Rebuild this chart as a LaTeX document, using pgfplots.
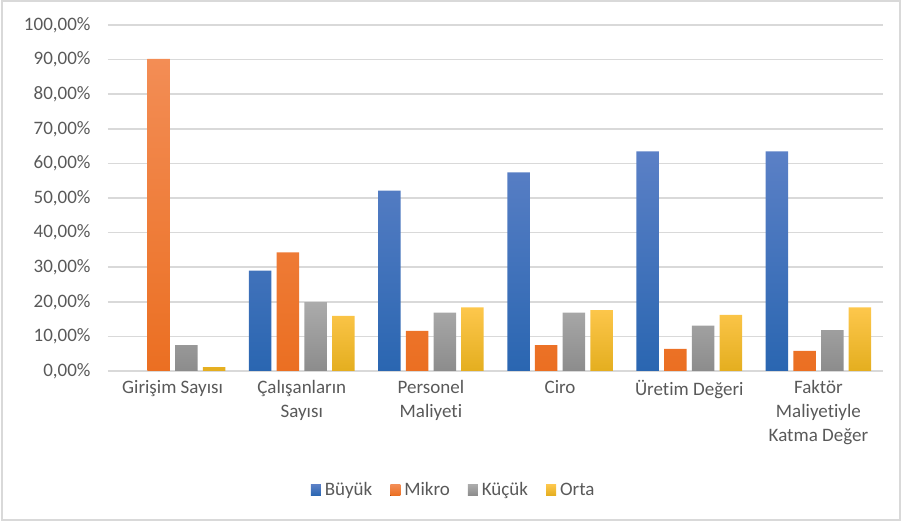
\documentclass[border=0pt]{standalone}
\usepackage{fontspec}
\setmainfont{Carlito}[Ligatures=NoCommon]
\usepackage{pgfplots}
\pgfplotsset{compat=1.18}

\definecolor{bluT}{HTML}{5B80C6}
\definecolor{bluB}{HTML}{2A66B1}
\definecolor{orT}{HTML}{F38D55}
\definecolor{orB}{HTML}{EB6F22}
\definecolor{grT}{HTML}{ABABAB}
\definecolor{grB}{HTML}{8C8C8C}
\definecolor{yeT}{HTML}{FDC74C}
\definecolor{yeB}{HTML}{E4AE1F}
\definecolor{txt}{HTML}{595959}
\definecolor{gridc}{HTML}{D9D9D9}

\begin{document}
\begin{tikzpicture}
\useasboundingbox (-108pt,-155pt) rectangle (796pt,371pt);
\begin{axis}[
  at={(0pt,0pt)}, anchor=south west,
  scale only axis,
  width=775pt, height=346pt,
  ybar=5.2pt, bar width=22.5pt,
  xmin=-0.5, xmax=5.5,
  ymin=0, ymax=100,
  axis line style={draw=none},
  ytick={0,10,...,100},
  yticklabels={{0,00\%},{10,00\%},{20,00\%},{30,00\%},{40,00\%},{50,00\%},{60,00\%},{70,00\%},{80,00\%},{90,00\%},{100,00\%}},
  xtick={0,1,2,3,4,5},
  xticklabels={Girişim Sayısı, Çalışanların\\Sayısı, Personel\\Maliyeti, Ciro, Üretim Değeri, Faktör\\Maliyetiyle\\Katma Değer},
  major tick length=0pt,
  ymajorgrids,
  grid style={draw=gridc, line width=1.5pt},
  /pgf/number format/assume math mode=true,
  tick label style={font=\fontsize{19}{24}\selectfont, text=txt},
  xticklabel style={align=center, yshift=-6pt},
  yticklabel style={xshift=-14pt},
  legend columns=4,
  legend style={at={(0.446,-0.344)}, anchor=center, draw=none, fill=none,
    font=\fontsize{19}{24}\selectfont, text=txt,
    /tikz/every even column/.append style={column sep=16pt}},
  legend image code/.code={\path (0pt,0pt) -- (12pt,0pt);\fill[#1] (0pt,-5.5pt) rectangle (10pt,5.5pt);},
]
% Büyük: Girişim Sayısı value is ~0 and not drawn
\addplot[draw=none, top color=bluT, bottom color=bluB] coordinates {(1,29.0) (2,52.1) (3,57.4) (4,63.5) (5,63.5)};
\addplot[draw=none, top color=orT, bottom color=orB] coordinates {(0,90.2) (1,34.3) (2,11.6) (3,7.5) (4,6.4) (5,5.8)};
\addplot[draw=none, top color=grT, bottom color=grB] coordinates {(0,7.5) (1,19.9) (2,16.9) (3,16.9) (4,13.1) (5,11.8)};
\addplot[draw=none, top color=yeT, bottom color=yeB] coordinates {(0,1.1) (1,15.9) (2,18.4) (3,17.6) (4,16.2) (5,18.4)};
\legend{Büyük, Mikro, Küçük, Orta}
\end{axis}
\draw[draw=gridc, line width=2pt] (-106pt,-149pt) rectangle (792pt,369.5pt);
\end{tikzpicture}
\end{document}
